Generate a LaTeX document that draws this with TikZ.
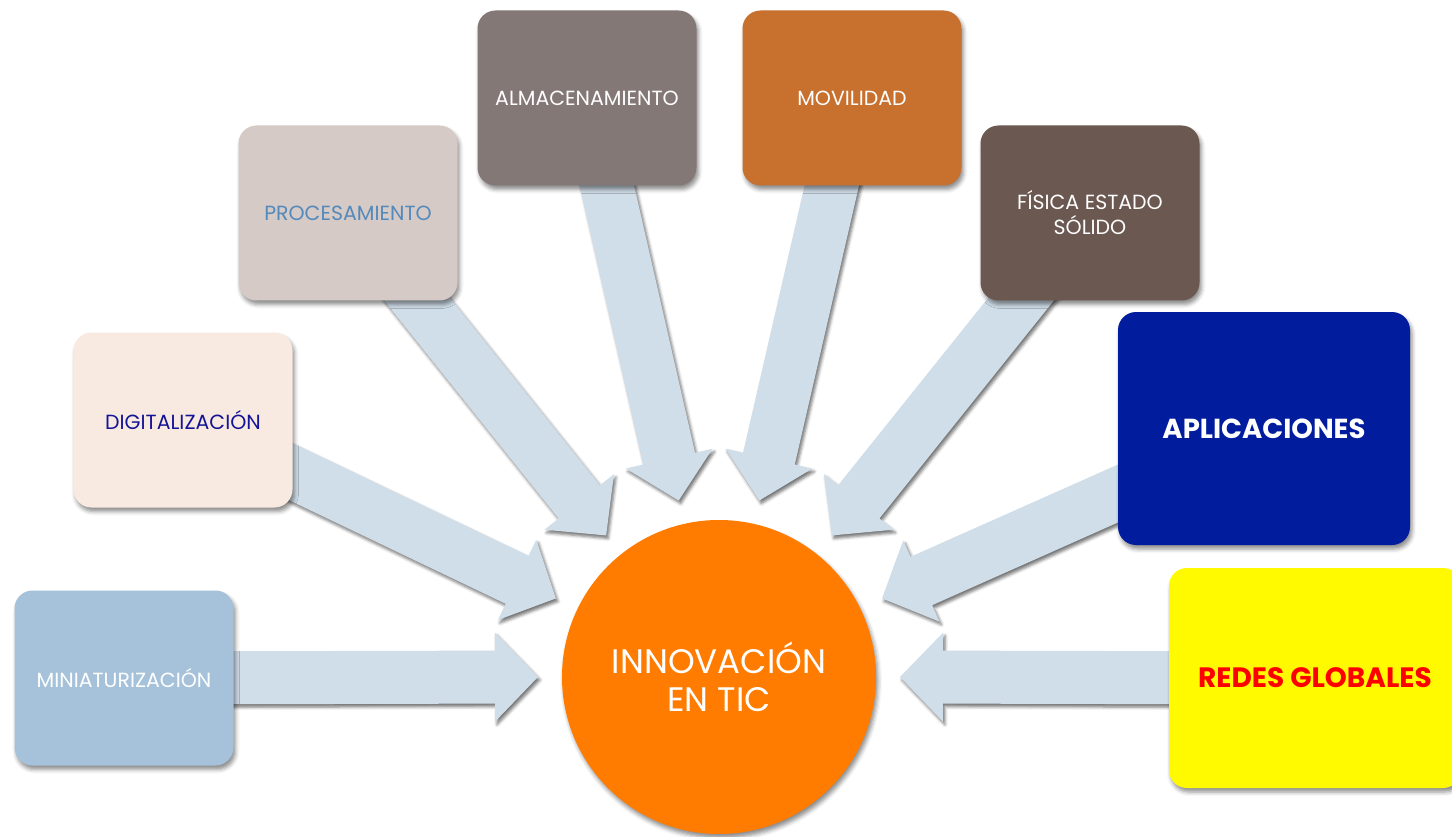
\documentclass[tikz,border=0pt]{standalone}
\usepackage{fontspec}
\setmainfont{Poppins}
\usetikzlibrary{calc,shadows.blur}

\definecolor{arrowfill}{RGB}{208,222,233}
\definecolor{miniC}{RGB}{165,194,218}
\definecolor{digiC}{RGB}{249,234,225}
\definecolor{procC}{RGB}{213,202,197}
\definecolor{almaC}{RGB}{132,120,119}
\definecolor{moviC}{RGB}{200,112,45}
\definecolor{fisiC}{RGB}{107,88,80}
\definecolor{apliC}{RGB}{2,28,158}
\definecolor{redeC}{RGB}{255,250,0}
\definecolor{coreC}{RGB}{255,124,0}
\definecolor{navyT}{RGB}{20,20,150}
\definecolor{steelT}{RGB}{84,137,188}
\definecolor{redT}{RGB}{255,0,0}

\tikzset{
  softshadow/.style={blur shadow={shadow xshift=2pt, shadow yshift=-4pt,
      shadow blur radius=4pt, shadow opacity=45}},
  card/.style={rectangle, rounded corners=18pt, inner sep=0pt, align=center,
      minimum width=219pt, minimum height=175pt, softshadow,
      font=\fontsize{20.5}{25}\selectfont},
  bigcard/.style={card, minimum width=292pt, font=\fontsize{27.5}{31}\selectfont\bfseries},
  feed/.style={fill=arrowfill, blur shadow={shadow xshift=2pt, shadow yshift=-3pt,
      shadow blur radius=3pt, shadow opacity=55}},
}

% block arrow from the centre of #1 to the point #2
\newcommand\feedarrow[2]{%
  \path[feed] let \p1=(#1), \p2=(#2),
      \n1={atan2(\y2-\y1,\x2-\x1)}, \n2={veclen(\x2-\x1,\y2-\y1)} in
      [shift={(\p1)}, rotate=\n1]
      (0pt,26.5pt) -- (\n2-43pt,26.5pt) -- (\n2-43pt,44.5pt) -- (\n2,0pt)
      -- (\n2-43pt,-44.5pt) -- (\n2-43pt,-26.5pt) -- (0pt,-26.5pt) -- cycle;}

\begin{document}
\begin{tikzpicture}[x=1pt,y=1pt]
\useasboundingbox (0,0) rectangle (1452,-837);

\coordinate (c) at (719,-677);
\foreach \k in {0,...,7}{
  \coordinate (t\k) at ($(c)+({180-\k*180/7}:181)$);
}

% card centres
\path
  (124,-678)   coordinate (pmini)
  (183,-420)   coordinate (pdigi)
  (348,-213)   coordinate (pproc)
  (587,-98)    coordinate (palma)
  (852,-98)    coordinate (pmovi)
  (1090,-213)  coordinate (pfisi)
  (1264,-428.5) coordinate (papli)
  (1315,-678)  coordinate (prede);

% arrows pointing at the centre circle
\feedarrow{pmini}{t0}
\feedarrow{pdigi}{t1}
\feedarrow{pproc}{t2}
\feedarrow{palma}{t3}
\feedarrow{pmovi}{t4}
\feedarrow{pfisi}{t5}
\feedarrow{papli}{t6}
\feedarrow{prede}{t7}

% cards
\node[card, fill=miniC, text=white]  (mini) at (pmini) {MINIATURIZACIÓN};
\node[card, fill=digiC, text=navyT]  (digi) at (pdigi) {DIGITALIZACIÓN};
\node[card, fill=procC, text=steelT] (proc) at (pproc) {PROCESAMIENTO};
\node[card, fill=almaC, text=white]  (alma) at (palma) {ALMACENAMIENTO};
\node[card, fill=moviC, text=white]  (movi) at (pmovi) {MOVILIDAD};
\node[card, fill=fisiC, text=white]  (fisi) at (pfisi) {FÍSICA ESTADO\\SÓLIDO};
\node[bigcard, minimum height=233pt, fill=apliC, text=white] (apli) at (papli) {APLICACIONES};
\node[bigcard, minimum height=220pt, fill=redeC, text=redT,
      font=\fontsize{28}{31}\selectfont\bfseries] (rede) at (prede) {REDES GLOBALES};

% centre circle
\node[circle, minimum size=314pt, inner sep=0pt, fill=coreC, text=white, align=center,
      softshadow, font=\fontsize{34}{38}\selectfont] (core) at (c) {INNOVACIÓN\\EN TIC};
\end{tikzpicture}
\end{document}
